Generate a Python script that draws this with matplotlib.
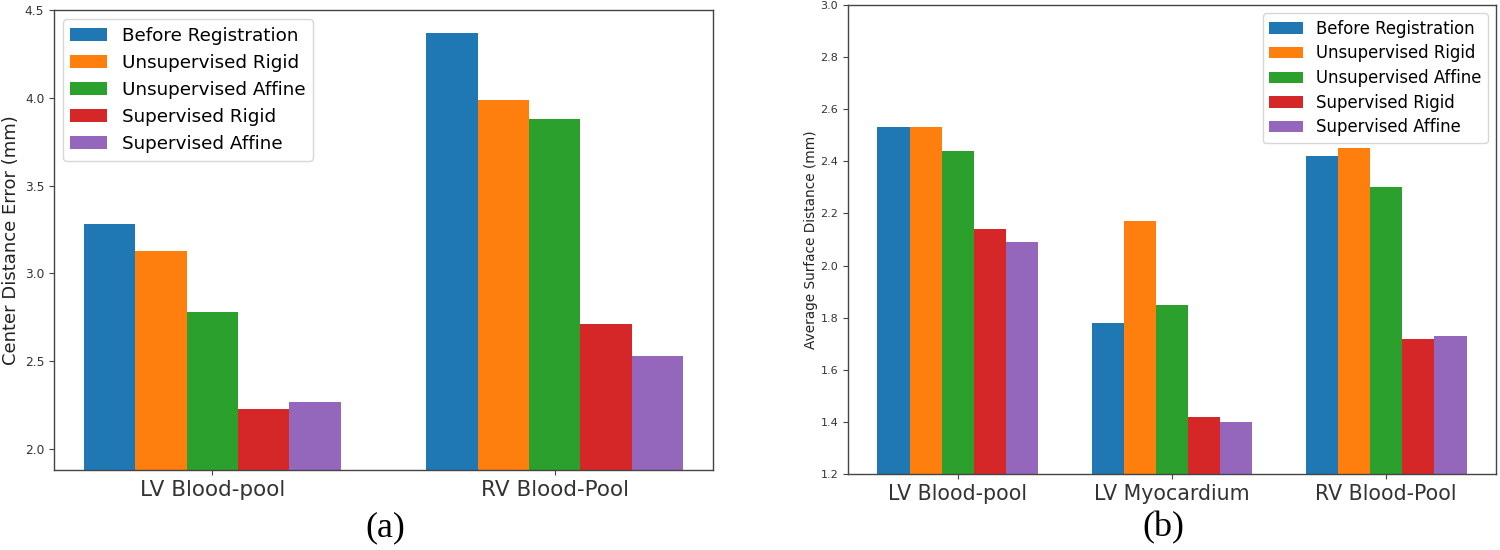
import matplotlib
matplotlib.use("Agg")
import matplotlib.pyplot as plt
import numpy as np

series = ["Before Registration", "Unsupervised Rigid", "Unsupervised Affine",
          "Supervised Rigid", "Supervised Affine"]
colors = ["#1f77b4", "#ff7f0e", "#2ca02c", "#d62728", "#9467bd"]

cats_a = ["LV Blood-pool", "RV Blood-Pool"]
before_a = [3.28, 4.37]
unsup_rigid_a = [3.13, 3.99]
unsup_affine_a = [2.78, 3.88]
sup_rigid_a = [2.23, 2.71]
sup_affine_a = [2.27, 2.53]

cats_b = ["LV Blood-pool", "LV Myocardium", "RV Blood-Pool"]
before_b = [2.53, 1.78, 2.42]
unsup_rigid_b = [2.53, 2.17, 2.45]
unsup_affine_b = [2.44, 1.85, 2.30]
sup_rigid_b = [2.14, 1.42, 1.72]
sup_affine_b = [2.09, 1.40, 1.73]

yticks_a = [2.0, 2.5, 3.0, 3.5, 4.0, 4.5]
yticks_b = [1.2, 1.4, 1.6, 1.8, 2.0, 2.2, 2.4, 2.6, 2.8, 3.0]

fig = plt.figure(figsize=(15, 5.5), dpi=100)
ax1 = fig.add_axes([54/1500, 80/550, 659/1500, 460/550])
ax2 = fig.add_axes([848/1500, 76/550, 648/1500, 469/550])

w = 0.15
spine_c = "#444444"

def draw(ax, cats, data, yticks, ylim, ylabel, ytick_fs, xtick_fs, leg_fs, leg_sp,
         ylab_fs, ylab_x, leg_loc):
    x = np.arange(len(cats))
    for i, (vals, name, c) in enumerate(zip(data, series, colors)):
        ax.bar(x + (i - 2) * w, vals, w, color=c, label=name)
    ax.set_xticks(x)
    ax.set_xticklabels(cats, fontsize=xtick_fs)
    ax.set_yticks(yticks)
    ax.set_yticklabels([f"{v:.1f}" for v in yticks], fontsize=ytick_fs)
    ax.set_ylim(*ylim)
    ax.set_ylabel(ylabel, fontsize=ylab_fs, color="#222222")
    ax.yaxis.set_label_coords(ylab_x, 0.5)
    for s in ax.spines.values():
        s.set_color(spine_c)
        s.set_linewidth(1.0)
    ax.tick_params(colors=spine_c, labelcolor="#333333")
    ax.legend(loc=leg_loc, fontsize=leg_fs, labelspacing=leg_sp)

draw(ax1, cats_a, [before_a, unsup_rigid_a, unsup_affine_a, sup_rigid_a, sup_affine_a],
     yticks_a, (1.88, 4.5), "Center Distance Error (mm)", 8.8, 15.5, 13.2, 0.5,
     13, -0.052, "upper left")
draw(ax2, cats_b, [before_b, unsup_rigid_b, unsup_affine_b, sup_rigid_b, sup_affine_b],
     yticks_b, (1.2, 3.0), "Average Surface Distance (mm)", 8.0, 14.8, 11.9, 0.4,
     9.8, -0.047, "upper right")

fig.text(385/1500, 1 - 528/550, "(a)", fontsize=26, family="Liberation Serif", ha="center", va="center")
fig.text(1163/1500, 1 - 528/550, "(b)", fontsize=26, family="Liberation Serif", ha="center", va="center")

fig.savefig("out.png", dpi=100)
